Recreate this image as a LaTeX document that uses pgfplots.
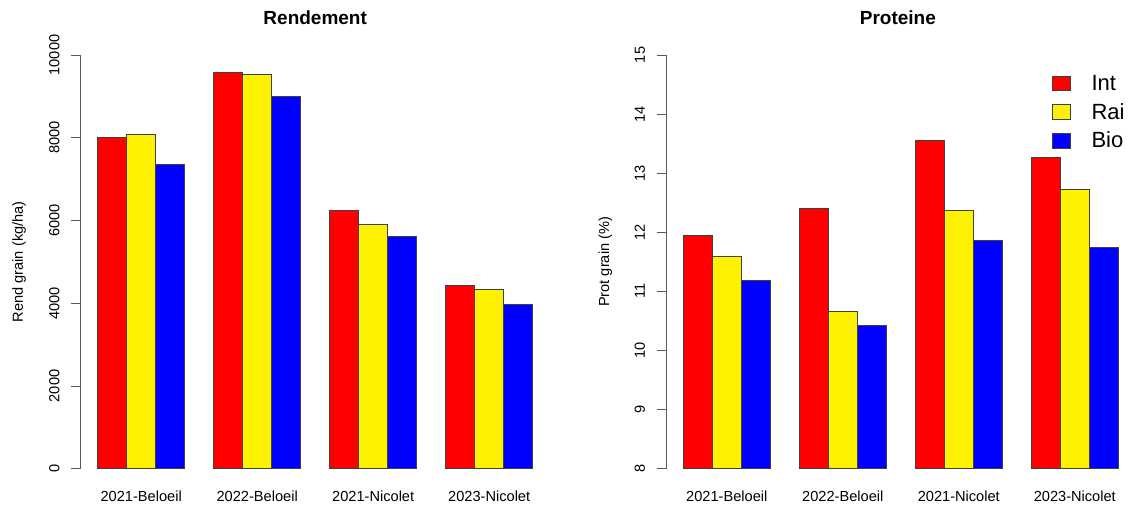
\documentclass[border=0pt]{standalone}
\usepackage{pgfplots}
\pgfplotsset{compat=1.18}
\usepackage{fontspec}
\setmainfont{Liberation Sans}
\definecolor{axisgray}{gray}{0.35}
\definecolor{barline}{gray}{0.25}
\pgfplotsset{
  rplot/.style={
    anchor=south west, scale only axis, height=413.7bp,
    xmin=0.4,
    axis x line*=bottom, axis y line*=left,
    x axis line style={draw=none},
    y axis line style={draw=axisgray, line width=0.8bp},
    xtick={2.5,6.5,10.5,14.5},
    xticklabels={2021-Beloeil,2022-Beloeil,2021-Nicolet,2023-Nicolet},
    x tick style={draw=none},
    y tick style={draw=axisgray, line width=0.8bp},
    tick align=outside, major tick length=9bp,
    scaled y ticks=false,
    /pgf/number format/assume math mode=true,
    /pgf/number format/1000 sep={},
    tick label style={font=\fontsize{14.6bp}{17bp}\selectfont, inner sep=0pt},
    yticklabel style={rotate=90, anchor=base},
    yticklabel shift=12bp,
    xticklabel style={anchor=base, yshift=-23.5bp},
    label style={font=\fontsize{14.6bp}{17bp}\selectfont, inner sep=0pt},
    ylabel style={at={(axis description cs:-0.1224,0.5)}, anchor=base},
    title style={at={(axis description cs:0.5,1)}, anchor=base, yshift=25bp, inner sep=0pt, font=\bfseries\fontsize{19bp}{22bp}\selectfont},
    legend image code/.code={\draw[#1] (0bp,-7.35bp) rectangle (17.7bp,7.35bp);},
  },
  barint/.style={ybar, bar width=1, bar shift=0, fill=red, draw=barline, line width=0.8bp},
  barrai/.style={ybar, bar width=1, bar shift=0, fill=yellow, draw=barline, line width=0.8bp},
  barbio/.style={ybar, bar width=1, bar shift=0, fill=blue, draw=barline, line width=0.8bp},
}
\begin{document}
\begin{tikzpicture}
\path (0bp,0bp) rectangle (1130bp,506bp);
\begin{axis}[rplot, at={(80.3bp,37.3bp)}, width=469.8bp, xmax=16.6,
  ymin=0, ymax=10000, ytick={0,2000,...,10000},
  ylabel={Rend grain (kg/ha)}, title={Rendement}]
\addplot[barint] coordinates {(1.5,8017) (5.5,9571) (9.5,6252) (13.5,4435)};
\addplot[barrai] coordinates {(2.5,8073) (6.5,9540) (10.5,5906) (14.5,4330)};
\addplot[barbio] coordinates {(3.5,7348) (7.5,9008) (11.5,5616) (15.5,3968)};
\end{axis}
\begin{axis}[rplot, at={(665.9bp,37.3bp)}, width=464bp, xmax=16.4,
  ymin=8, ymax=15, ytick={8,9,...,15},
  ylabel={Prot grain (\%)}, title={Proteine},
  legend style={at={(axis description cs:0.8321,0.9517)}, anchor=north west,
    draw=none, fill=none, inner sep=0pt, outer sep=0pt,
    row sep=11.5bp, column sep=21bp,
    font=\fontsize{22bp}{26bp}\selectfont,
    nodes={inner sep=0pt}},
  legend cell align=left]
\addplot[barint] coordinates {(1.5,11.95) (5.5,12.40) (9.5,13.55) (13.5,13.26)};
\addplot[barrai] coordinates {(2.5,11.60) (6.5,10.66) (10.5,12.37) (14.5,12.72)};
\addplot[barbio] coordinates {(3.5,11.18) (7.5,10.43) (11.5,11.86) (15.5,11.75)};
\legend{Int,Rai,Bio}
\end{axis}
\end{tikzpicture}
\end{document}
